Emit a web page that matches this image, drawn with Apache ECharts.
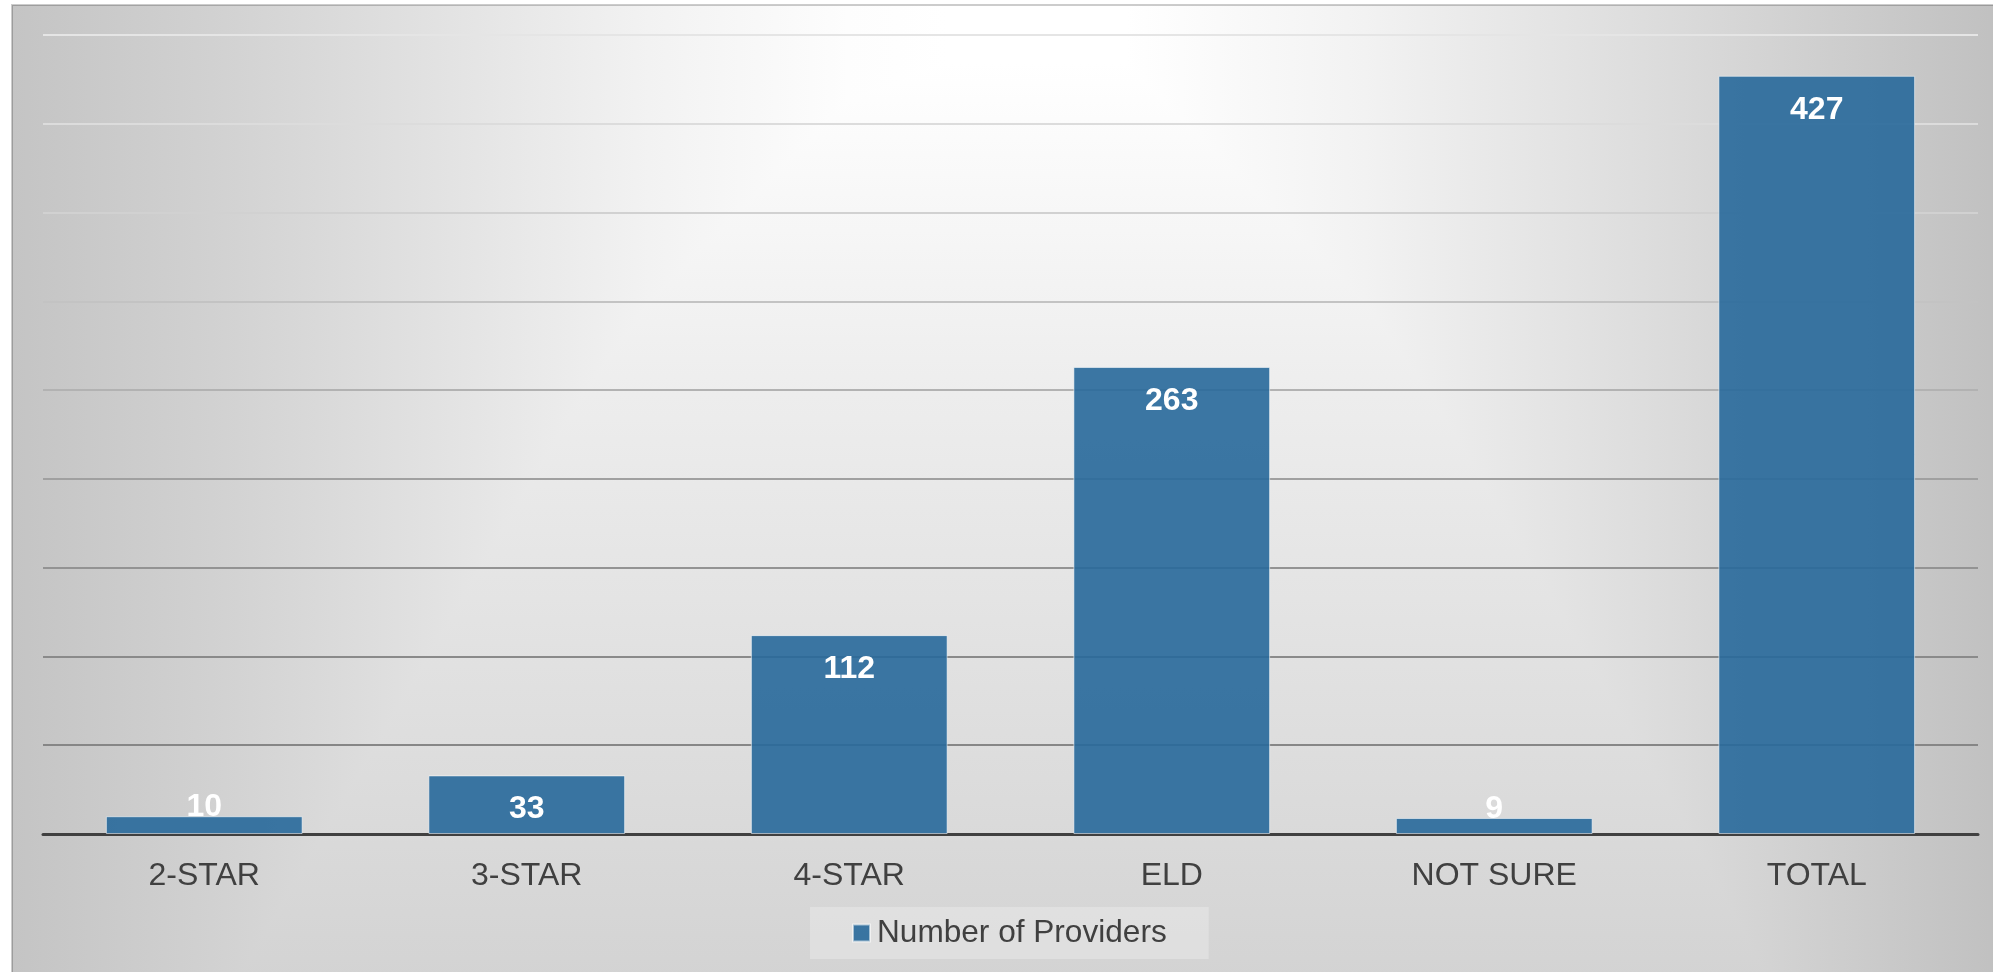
<!DOCTYPE html>
<html>
<head>
<meta charset="utf-8">
<title>Number of Providers</title>
<script src="https://cdn.jsdelivr.net/npm/echarts@6/dist/echarts.min.js"></script>
<style>
  html, body { margin: 0; padding: 0; background: #ffffff; }
  #chart { width: 1993px; height: 972px; }
</style>
</head>
<body>
<div id="chart"></div>
<script>
// Provider counts by rating category
const categories = ['2-STAR', '3-STAR', '4-STAR', 'ELD', 'NOT SURE', 'TOTAL'];
const providers = [10, 33, 112, 263, 9, 427];
const seriesName = 'Number of Providers';

// Value axis range (no tick labels drawn)
const axisMin = 0;
const axisMax = 450;
const axisStep = 50;

// Gridline shades from the baseline upward: darker low, fading toward the top
const gridShades = ['#404040', '#868686', '#8a8a8a', '#939393', '#a0a0a0',
                    '#b2b2b2', '#c3c3c3', '#d1d1d1', '#dcdcdc', '#e5e5e5'];

const BAR_COLOR = 'rgba(41,106,155,0.91)';
const TEXT_DARK = '#404040';
const FONT = '"Liberation Sans", Arial, sans-serif';

const chart = echarts.init(document.getElementById('chart'), null, { renderer: 'canvas' });

// Short bars carry their label just above the bar; the rest carry it inside the top
const barData = providers.map(v => {
  const small = v < 20;
  return {
    value: v,
    label: small
      ? { position: 'top', distance: -7 }
      : { position: 'insideTop', distance: 18 }
  };
});

const option = {
  animation: false,
  backgroundColor: '#ffffff',
  graphic: {
    elements: [
      {
        // horizontal light falloff: bright in the middle, grey at the sides
        type: 'rect', z: -20, silent: true,
        shape: { x: 12, y: 5, width: 1990, height: 975 },
        style: {
          fill: new echarts.graphic.LinearGradient(0, 0, 1, 0, [
            { offset: 0.00, color: '#c4c4c4' },
            { offset: 0.10, color: '#d1d1d1' },
            { offset: 0.20, color: '#e0e0e0' },
            { offset: 0.32, color: '#f2f2f2' },
            { offset: 0.42, color: '#fdfdfd' },
            { offset: 0.47, color: '#ffffff' },
            { offset: 0.56, color: '#ffffff' },
            { offset: 0.68, color: '#f2f2f2' },
            { offset: 0.84, color: '#dadada' },
            { offset: 1.00, color: '#c0c0c0' }
          ])
        }
      },
      {
        // vertical falloff, combined with "darken" so the darker of the two wins
        type: 'rect', z: -19, silent: true,
        shape: { x: 12, y: 5, width: 1990, height: 975 },
        style: {
          blend: 'darken',
          fill: new echarts.graphic.LinearGradient(0, 0, 0, 1, [
            { offset: 0.00, color: '#ffffff' },
            { offset: 0.06, color: '#ffffff' },
            { offset: 0.40, color: '#ededed' },
            { offset: 0.70, color: '#e0e0e0' },
            { offset: 1.00, color: '#d3d3d3' }
          ])
        }
      },
      {
        // chart frame edge
        type: 'rect', z: -18, silent: true,
        shape: { x: 12, y: 5, width: 1990, height: 975 },
        style: { fill: null, stroke: 'rgba(0,0,0,0.2)', lineWidth: 2 }
      }
    ]
  },
  grid: {
    left: 43,
    right: 15,
    top: 35,
    bottom: 138,
    containLabel: false
  },
  legend: {
    show: true,
    left: 810,
    top: 907,
    padding: [10, 42, 10, 42],
    backgroundColor: 'rgba(255,255,255,0.25)',
    itemWidth: 17,
    itemHeight: 17,
    icon: 'rect',
    textStyle: {
      color: TEXT_DARK,
      fontSize: 31.6,
      lineHeight: 32,
      fontFamily: FONT,
      padding: [0, 0, 0, 2]
    },
    data: [seriesName]
  },
  xAxis: {
    type: 'category',
    data: categories,
    axisTick: { show: false },
    axisLine: { show: true, lineStyle: { color: TEXT_DARK, width: 3 } },
    axisLabel: {
      color: TEXT_DARK,
      fontSize: 32,
      fontFamily: FONT,
      margin: 26
    }
  },
  yAxis: {
    type: 'value',
    min: axisMin,
    max: axisMax,
    interval: axisStep,
    axisLabel: { show: false },
    axisLine: { show: false },
    axisTick: { show: false },
    splitLine: {
      show: true,
      lineStyle: { color: gridShades, width: 2 }
    }
  },
  series: [
    {
      name: seriesName,
      type: 'bar',
      data: barData,
      barCategoryGap: '39%',
      itemStyle: {
        color: BAR_COLOR,
        borderColor: 'rgba(255,255,255,0.55)',
        borderWidth: 1
      },
      label: {
        show: true,
        color: '#ffffff',
        fontSize: 32,
        fontWeight: 'bold',
        fontFamily: FONT
      }
    }
  ]
};

chart.setOption(option);
</script>
</body>
</html>
